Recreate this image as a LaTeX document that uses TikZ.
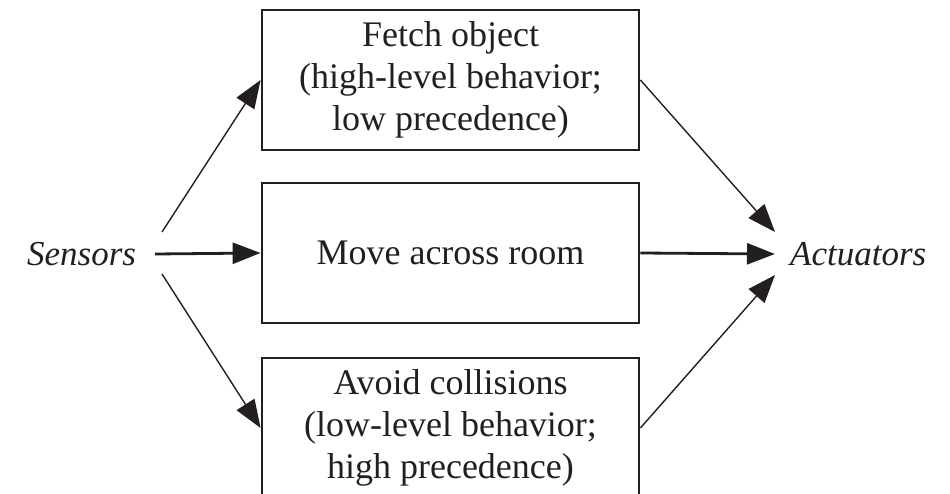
\documentclass[tikz,border=0pt]{standalone}
\usepackage{fontspec}
\setmainfont{Liberation Serif}
\usetikzlibrary{arrows.meta}
\definecolor{ink}{HTML}{231F20}
\begin{document}
\begin{tikzpicture}[x=1pt,y=-1pt,
  font=\fontsize{36}{42}\selectfont,
  behavior/.style={draw=ink, line width=2.8pt, minimum width=377pt,
    minimum height=140pt, align=center, inner sep=0pt, text=ink},
  endpoint/.style={inner sep=0pt, text=ink, font=\fontsize{35}{42}\selectfont\itshape},
  thinarrow/.style={draw=ink, line width=1.4pt, -{Triangle[length=28pt,width=21pt]}},
  thickarrow/.style={draw=ink, line width=2.8pt, -{Triangle[length=28pt,width=21pt]}}]
  \useasboundingbox (0,0) rectangle (950,494);
  \clip (0,0) rectangle (950,494);

  % the three layered behaviours
  \node[behavior] (fetch) at (450.5,80)
    {Fetch object\\(high-level behavior;\\low precedence)};
  \node[behavior] (move) at (450.5,253) {Move across room};
  \node[behavior] (avoid) at (450.5,428)
    {Avoid collisions\\(low-level behavior;\\high precedence)};

  % inputs and outputs
  \node[endpoint, anchor=west] (sensors) at (27,254) {Sensors};
  \node[endpoint, anchor=west] (actuators) at (790,254) {Actuators};

  % free ends of the slanted connectors
  \coordinate (sup) at (162,232);
  \coordinate (sdown) at (162,274);
  \coordinate (aup) at (775,275);
  \coordinate (adown) at (775,232);
  \coordinate (sout) at (155,254);
  \coordinate (ain) at (775,254);

  % sensors to behaviours
  \draw[thinarrow] (sup) -- (fetch.west);
  \draw[thickarrow] (sout) -- (move.west);
  \draw[thinarrow] (sdown) -- (avoid.west);

  % behaviours to actuators
  \draw[thinarrow] (fetch.east) -- (adown);
  \draw[thickarrow] (move.east) -- (ain);
  \draw[thinarrow] (avoid.east) -- (aup);
\end{tikzpicture}
\end{document}
